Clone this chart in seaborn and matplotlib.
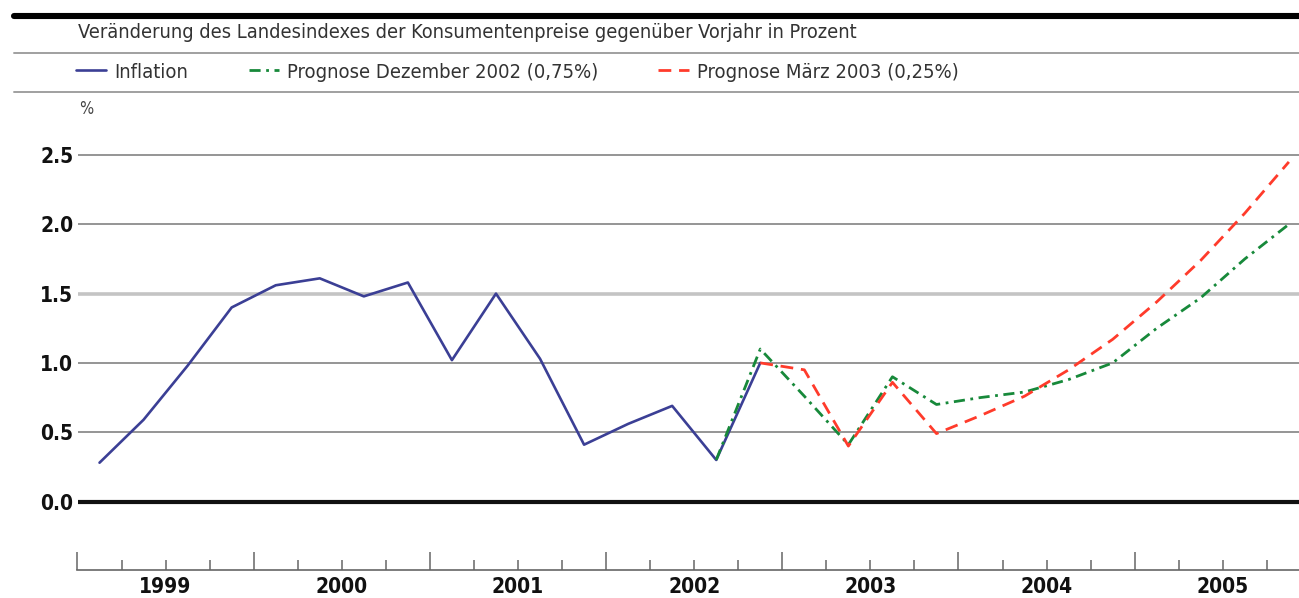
import numpy as np
import pandas as pd
import seaborn as sns
import matplotlib
matplotlib.use("Agg")
import matplotlib.pyplot as plt
from matplotlib import font_manager
from matplotlib.lines import Line2D
from matplotlib.ticker import FixedLocator, FixedFormatter


# quarterly values, first quarter = Q1 1999
inflation = [0.28, 0.59, 0.98, 1.40, 1.56, 1.61, 1.48, 1.58, 1.02, 1.50,
             1.03, 0.41, 0.56, 0.69, 0.30, 1.00]
prog_dez02 = [0.30, 1.10, 0.76, 0.41, 0.90, 0.70, 0.75, 0.79, 0.88, 1.00,
              1.25, 1.47, 1.75, 2.00]          # from Q3 2002
prog_mar03 = [1.00, 0.95, 0.40, 0.86, 0.49, 0.62, 0.76, 0.95, 1.17, 1.44,
              1.74, 2.08, 2.45]                # from Q4 2002
years = [1999, 2000, 2001, 2002, 2003, 2004, 2005]
yticks = [0.0, 0.5, 1.0, 1.5, 2.0, 2.5]

labels = ["Inflation", "Prognose Dezember 2002 (0,75%)", "Prognose März 2003 (0,25%)"]
subtitle = "Veränderung des Landesindexes der Konsumentenpreise gegenüber Vorjahr in Prozent"


def quarters(start, n):
    # position of a quarter = middle of the quarter, in fractional years
    return 1999 + (np.arange(start, start + n) + 0.5) / 4


df_inf = pd.DataFrame({"t": quarters(0, len(inflation)), "v": inflation})
df_dez = pd.DataFrame({"t": quarters(14, len(prog_dez02)), "v": prog_dez02})
df_mar = pd.DataFrame({"t": quarters(15, len(prog_mar03)), "v": prog_mar03})

sns.set_theme(style="white")
names = {f.name for f in font_manager.fontManager.ttflist}
stretches = {(f.name, f.stretch) for f in font_manager.fontManager.ttflist}
if any(n == "DejaVu Sans" and s == "condensed" for n, s in stretches):
    plt.rcParams["font.family"] = ["DejaVu Sans"]
    plt.rcParams["font.stretch"] = "condensed"
elif "Liberation Sans Narrow" in names:
    plt.rcParams["font.family"] = ["Liberation Sans Narrow", "DejaVu Sans"]
else:
    plt.rcParams["font.family"] = ["DejaVu Sans"]

fig = plt.figure(figsize=(12.99, 5.98), dpi=100)
W, H = 1299, 598
ax = fig.add_axes([77.5 / W, 28 / H, 1 - 77.5 / W, (570 - 140) / H])

ymin = -0.494
ymax = 2.608
ax.set_ylim(ymin, ymax)
ax.set_xlim(1999, 1999 + (W - 77.5) / 176.2)

# grid lines
for v in yticks:
    if v == 0:
        ax.axhline(v, color="#111111", lw=3.0, zorder=1)
    elif v == 1.5:
        ax.axhline(v, color="#c4c4c4", lw=2.6, zorder=1)
    else:
        ax.axhline(v, color="#8c8c8c", lw=1.3, zorder=1)

sns.lineplot(data=df_inf, x="t", y="v", ax=ax, color="#3b3f95", lw=1.9,
             label=labels[0], zorder=3)
sns.lineplot(data=df_dez, x="t", y="v", ax=ax, color="#17893a", lw=2.0,
             linestyle=(0, (4, 2, 1, 2)), label=labels[1], zorder=4)
sns.lineplot(data=df_mar, x="t", y="v", ax=ax, color="#ff3b2b", lw=2.0,
             linestyle=(0, (4.6, 2.8)), label=labels[2], zorder=5)
ax.get_legend().remove()

ax.set_xlabel("")
ax.set_ylabel("")
for s in ["top", "right", "left"]:
    ax.spines[s].set_visible(False)
ax.spines["bottom"].set_color("#666666")
ax.spines["bottom"].set_linewidth(1.2)

ax.set_yticks(yticks)
ax.set_yticklabels([f"{v:.1f}" for v in yticks], fontsize=15, fontweight="bold",
                   color="#111111")
ax.tick_params(axis="y", left=False, length=0, pad=3)

major = list(years) + [2006]
ax.xaxis.set_major_locator(FixedLocator(major))
ax.xaxis.set_major_formatter(FixedFormatter([""] * len(major)))
minor = [y + q / 4 for y in years for q in (1, 2, 3)]
ax.xaxis.set_minor_locator(FixedLocator(minor))
ax.xaxis.set_minor_formatter(FixedFormatter(
    [str(y) if q == 2 else "" for y in years for q in (1, 2, 3)]))
ax.tick_params(axis="x", which="major", bottom=True, direction="in", length=13,
               width=1.1, color="#666666", pad=5)
ax.tick_params(axis="x", which="minor", bottom=True, direction="in", length=7,
               width=1.1, color="#666666", pad=5, labelsize=15)
for t in ax.xaxis.get_minorticklabels():
    t.set_fontweight("bold")
    t.set_color("#111111")

# header rules and texts
fig.add_artist(Line2D([14 / W, 1], [1 - 15.5 / H] * 2, color="#000000", lw=4.4,
                      transform=fig.transFigure))
for yy in (53, 92):
    fig.add_artist(Line2D([14 / W, 1], [1 - yy / H] * 2, color="#a0a0a0", lw=1.4,
                          transform=fig.transFigure))
fig.text(78 / W, 1 - 33 / H, subtitle, fontsize=14.3, color="#333333", va="center")
fig.text(79 / W, 1 - 109 / H, "%", fontsize=12, color="#444444", va="center")

handles = [ln for ln in ax.lines if ln.get_label() in labels]
fig.legend(handles, labels, loc="center left", bbox_to_anchor=(76 / W, 1 - 72 / H),
           ncol=3, frameon=False, fontsize=14.5, handlelength=1.5, handletextpad=0.4,
           columnspacing=3.0, borderpad=0, borderaxespad=0, labelcolor="#333333")

fig.savefig("out.png", dpi=100)
